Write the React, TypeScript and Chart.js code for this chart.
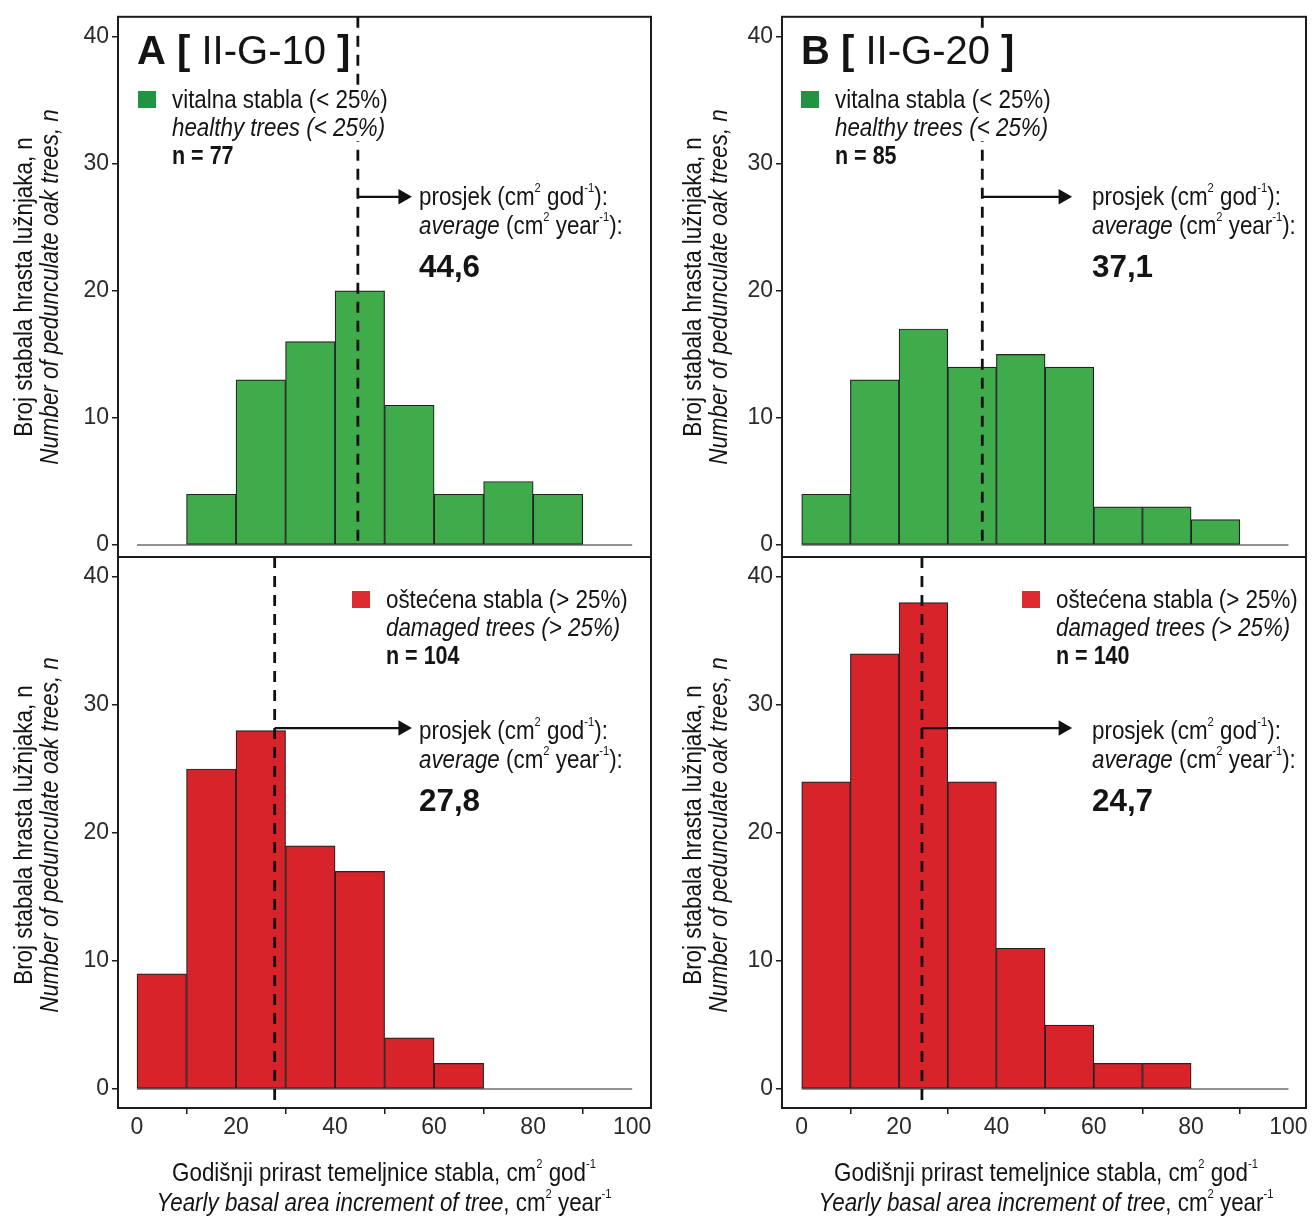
import React, { useEffect, useRef } from 'react';
import Chart from 'chart.js/auto';

// ---------- data ----------
const BIN_STARTS = [0, 10, 20, 30, 40, 50, 60, 70, 80, 90];
const BIN_WIDTH = 10;
const A_HEALTHY = [0, 4, 13, 16, 20, 11, 4, 5, 4, 0];
const A_DAMAGED = [9, 25, 28, 19, 17, 4, 2, 0, 0, 0];
const B_HEALTHY = [4, 13, 17, 14, 15, 14, 3, 3, 2, 0];
const B_DAMAGED = [24, 34, 38, 24, 11, 5, 2, 2, 0, 0];
const A_HEALTHY_MEAN = 44.6;
const A_DAMAGED_MEAN = 27.8;
const B_HEALTHY_MEAN = 37.1;
const B_DAMAGED_MEAN = 24.7;
const A_HEALTHY_N = 77;
const A_DAMAGED_N = 104;
const B_HEALTHY_N = 85;
const B_DAMAGED_N = 140;
const X_TICKS = [0, 20, 40, 60, 80, 100];
const Y_TICKS = [0, 10, 20, 30, 40];
const ARROW_END = 53.7;

const SANS = '"Liberation Sans", Arial, sans-serif';
const SQUEEZE = 0.86;
const GREEN = '#3fab4a';
const GREEN_KEY = '#1f9442';
const RED = '#d8232a';
const RED_KEY = '#dc2a2f';
const INK = '#1c1c1c';

type Box = { left: number; top: number; width: number; height: number };
type Area = { left: number; top: number; right: number; bottom: number };
type Cfg = {
  canvas: Box; area: Area; xMin: number; xMax: number; yMin: number; yMax: number;
  counts: number[]; mean: number; meanBottom: number; arrowY: number; fill: string; showX: boolean;
};

const framePlugin = {
  id: 'frame',
  afterDraw(chart: any) {
    const { ctx, chartArea: a } = chart;
    ctx.save();
    ctx.strokeStyle = INK;
    ctx.lineWidth = 2;
    ctx.strokeRect(a.left, a.top, a.right - a.left, a.bottom - a.top);
    ctx.restore();
  },
};

function Panel({ cfg }: { cfg: Cfg }) {
  const ref = useRef<HTMLCanvasElement>(null);
  useEffect(() => {
    const c = cfg.canvas;
    const a = cfg.area;
    const bars = BIN_STARTS.map((s, i) => ({ x: s + BIN_WIDTH / 2, y: cfg.counts[i] })).filter((d) => d.y > 0);
    const chart = new Chart(ref.current as HTMLCanvasElement, {
      type: 'bar',
      data: {
        datasets: [
          {
            type: 'bar', data: bars as any, backgroundColor: cfg.fill, borderColor: '#222',
            borderWidth: 1.2, borderSkipped: false, barPercentage: 1, categoryPercentage: 1, order: 3,
          } as any,
          {
            type: 'line', data: [{ x: X_TICKS[0], y: 0 }, { x: X_TICKS[X_TICKS.length - 1], y: 0 }],
            borderColor: '#6d6d6d', borderWidth: 1.6, pointRadius: 0, order: 4,
          } as any,
          {
            type: 'line', data: [{ x: cfg.mean, y: cfg.yMax }, { x: cfg.mean, y: cfg.meanBottom }],
            borderColor: '#111', borderWidth: 2.8, borderDash: [11, 8], pointRadius: 0, order: 1,
          } as any,
          {
            type: 'line', data: [{ x: cfg.mean, y: cfg.arrowY }, { x: ARROW_END, y: cfg.arrowY }],
            borderColor: '#111', borderWidth: 2.2, pointRadius: [0, 9], pointStyle: 'triangle',
            pointRotation: 90, pointBackgroundColor: '#111', pointBorderColor: '#111', pointBorderWidth: 0, order: 0,
          } as any,
        ],
      },
      options: {
        animation: false,
        responsive: false,
        devicePixelRatio: 1,
        events: [],
        layout: {
          padding: {
            left: 0,
            top: a.top - c.top,
            right: c.left + c.width - a.right,
            bottom: cfg.showX ? 0 : c.top + c.height - a.bottom,
          },
        },
        plugins: { legend: { display: false }, tooltip: { enabled: false } },
        scales: {
          x: {
            type: 'linear', min: cfg.xMin, max: cfg.xMax, offset: false, display: cfg.showX,
            afterBuildTicks: (s: any) => { s.ticks = X_TICKS.map((v) => ({ value: v })); },
            afterFit: (s: any) => { s.height = cfg.showX ? c.top + c.height - a.bottom : 0; },
            grid: { drawOnChartArea: false, drawTicks: true, tickLength: 6, color: INK, lineWidth: 1.5 },
            border: { display: false },
            ticks: { font: { family: SANS, size: 23 }, color: '#2a2a2a', padding: 0, maxRotation: 0, autoSkip: false },
          },
          y: {
            type: 'linear', min: cfg.yMin, max: cfg.yMax,
            afterBuildTicks: (s: any) => { s.ticks = Y_TICKS.map((v) => ({ value: v })); },
            afterFit: (s: any) => { s.width = a.left - c.left; },
            grid: { drawOnChartArea: false, drawTicks: true, tickLength: 6, color: INK, lineWidth: 1.5 },
            border: { display: false },
            ticks: { font: { family: SANS, size: 23 }, color: '#2a2a2a', padding: 3, autoSkip: false },
          },
        } as any,
      },
      plugins: [framePlugin],
    } as any);
    return () => chart.destroy();
  }, [cfg]);
  const c = cfg.canvas;
  return (
    <canvas
      ref={ref}
      width={c.width}
      height={c.height}
      style={{ position: 'absolute', left: c.left, top: c.top, width: c.width, height: c.height, display: 'block' }}
    />
  );
}

const Sup = ({ children }: { children: React.ReactNode }) => (
  <span style={{ fontSize: '0.5em', verticalAlign: '1.0em', lineHeight: 0 }}>{children}</span>
);

function T({ x, y, size, children, weight, italic, squeeze, bg, lh, padB }: any) {
  const sq = squeeze === undefined ? SQUEEZE : squeeze;
  const lineH = lh || size;
  return (
    <div
      style={{
        position: 'absolute', left: x, top: y - lineH / 2, fontSize: size, lineHeight: `${lineH}px`,
        fontFamily: SANS, fontWeight: weight || 'normal', fontStyle: italic ? 'italic' : 'normal',
        whiteSpace: 'nowrap', color: '#141414', transform: `scaleX(${sq})`, transformOrigin: 'left center',
        background: bg ? '#fff' : 'transparent', paddingBottom: padB || 0,
      }}
    >
      {children}
    </div>
  );
}

function VT({ x, y, size, children, italic }: any) {
  return (
    <div
      style={{
        position: 'absolute', left: x, top: y, fontSize: size, lineHeight: 1, fontFamily: SANS,
        fontStyle: italic ? 'italic' : 'normal', whiteSpace: 'nowrap', color: '#141414',
        transform: `translate(-50%, -50%) rotate(-90deg) scaleX(${SQUEEZE})`,
      }}
    >
      {children}
    </div>
  );
}

const TOP_Y = { yMin: -0.94, yMax: 41.56 };
const BOT_Y = { yMin: -1.48, yMax: 41.56 };

const PANELS: Cfg[] = [
  {
    canvas: { left: 0, top: 0, width: 660, height: 590 }, area: { left: 118, top: 13, right: 651, bottom: 557 },
    xMin: -3.84, xMax: 103.8, ...TOP_Y, counts: A_HEALTHY, mean: A_HEALTHY_MEAN, meanBottom: 0, arrowY: 27.4, fill: GREEN, showX: false,
  },
  {
    canvas: { left: 0, top: 525, width: 660, height: 691 }, area: { left: 118, top: 557, right: 651, bottom: 1108 },
    xMin: -3.84, xMax: 103.8, ...BOT_Y, counts: A_DAMAGED, mean: A_DAMAGED_MEAN, meanBottom: BOT_Y.yMin, arrowY: 28.2, fill: RED, showX: true,
  },
  {
    canvas: { left: 660, top: 0, width: 655, height: 590 }, area: { left: 782, top: 13, right: 1314, bottom: 557 },
    xMin: -4.05, xMax: 103.6, ...TOP_Y, counts: B_HEALTHY, mean: B_HEALTHY_MEAN, meanBottom: 0, arrowY: 27.4, fill: GREEN, showX: false,
  },
  {
    canvas: { left: 660, top: 525, width: 655, height: 691 }, area: { left: 782, top: 557, right: 1314, bottom: 1108 },
    xMin: -4.05, xMax: 103.6, ...BOT_Y, counts: B_DAMAGED, mean: B_DAMAGED_MEAN, meanBottom: BOT_Y.yMin, arrowY: 28.2, fill: RED, showX: true,
  },
];

function Legend({ x, y, color, l1, l2, n }: any) {
  return (
    <>
      <div style={{ position: 'absolute', left: x, top: y - 8, width: 18, height: 17, background: color }} />
      <T x={x + 34} y={y} size={26} lh={28} bg>{l1}</T>
      <T x={x + 34} y={y + 28} size={26} lh={28} bg italic>{l2}</T>
      <T x={x + 34} y={y + 56} size={25} weight="bold">n = {n}</T>
    </>
  );
}

function Avg({ x, y, value }: any) {
  return (
    <>
      <T x={x} y={y} size={26}>prosjek (cm<Sup>2</Sup> god<Sup>-1</Sup>):</T>
      <T x={x} y={y + 29} size={26}><i>average</i> (cm<Sup>2</Sup> year<Sup>-1</Sup>):</T>
      <T x={x} y={y + 70} size={32} weight="bold" squeeze={0.98}>{value}</T>
    </>
  );
}

function Title({ x, y, letter, code }: any) {
  return (
    <T x={x} y={y} size={40} lh={44} squeeze={1} bg padB={14}>
      <b>{letter}</b> <b>[</b> {code} <b>]</b>
    </T>
  );
}

function XTitle({ cx }: any) {
  const base: any = {
    position: 'absolute', left: cx - 300, width: 600, textAlign: 'center', fontSize: 26, lineHeight: 1,
    fontFamily: SANS, color: '#141414', whiteSpace: 'nowrap', transform: `scaleX(${SQUEEZE})`, transformOrigin: 'center',
  };
  return (
    <>
      <div style={{ ...base, top: 1172 - 13 }}>
        Godišnji prirast temeljnice stabla, cm<Sup>2</Sup> god<Sup>-1</Sup>
      </div>
      <div style={{ ...base, top: 1202 - 13 }}>
        <i>Yearly basal area increment of tree</i>, cm<Sup>2</Sup> year<Sup>-1</Sup>
      </div>
    </>
  );
}

function YTitle({ x, cy }: any) {
  return (
    <>
      <VT x={x} y={cy} size={26}>Broj stabala hrasta lužnjaka, n</VT>
      <VT x={x + 26} y={cy} size={26} italic>Number of pedunculate oak trees, n</VT>
    </>
  );
}

const fmt = (v: number) => v.toFixed(1).replace('.', ',');

export default function App() {
  return (
    <div style={{ position: 'absolute', left: 0, top: 0, width: 1315, height: 1216, background: '#fff', overflow: 'hidden' }}>
      {PANELS.map((p, i) => <Panel key={i} cfg={p} />)}
      <Title x={137} y={50} letter="A" code="II-G-10" />
      <Title x={801} y={50} letter="B" code="II-G-20" />
      <Legend x={138} y={99} color={GREEN_KEY} l1="vitalna stabla (< 25%)" l2="healthy trees (< 25%)" n={A_HEALTHY_N} />
      <Legend x={801} y={99} color={GREEN_KEY} l1="vitalna stabla (< 25%)" l2="healthy trees (< 25%)" n={B_HEALTHY_N} />
      <Legend x={352} y={599} color={RED_KEY} l1="oštećena stabla (> 25%)" l2="damaged trees (> 25%)" n={A_DAMAGED_N} />
      <Legend x={1022} y={599} color={RED_KEY} l1="oštećena stabla (> 25%)" l2="damaged trees (> 25%)" n={B_DAMAGED_N} />
      <Avg x={419} y={196} value={fmt(A_HEALTHY_MEAN)} />
      <Avg x={1092} y={196} value={fmt(B_HEALTHY_MEAN)} />
      <Avg x={419} y={730} value={fmt(A_DAMAGED_MEAN)} />
      <Avg x={1092} y={730} value={fmt(B_DAMAGED_MEAN)} />
      <YTitle x={23} cy={287} />
      <YTitle x={23} cy={835} />
      <YTitle x={692} cy={287} />
      <YTitle x={692} cy={835} />
      <XTitle cx={384} />
      <XTitle cx={1046} />
    </div>
  );
}
